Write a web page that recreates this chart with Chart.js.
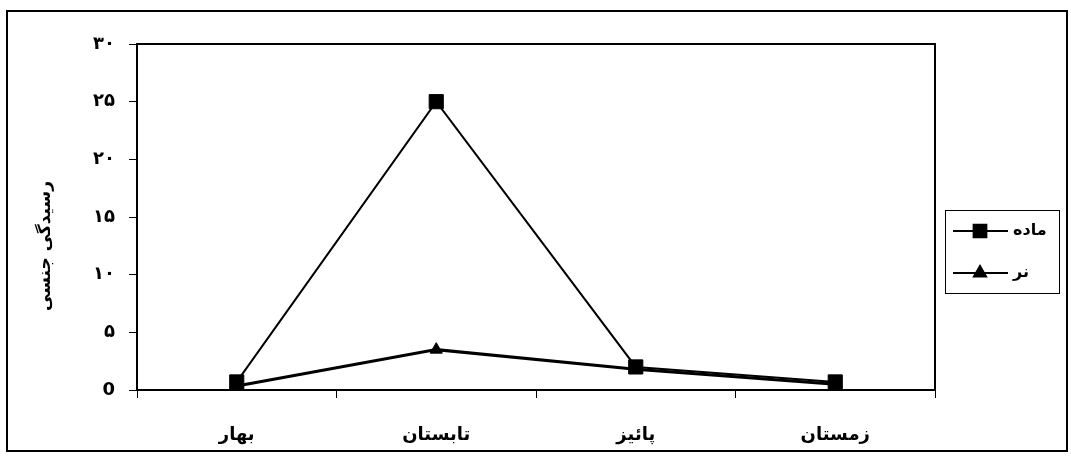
<!DOCTYPE html>
<html>
<head>
<meta charset="utf-8">
<script src="https://cdn.jsdelivr.net/npm/chart.js@4.4.1/dist/chart.umd.min.js"></script>
<style>
  body { margin: 0; background: #fff; }
  #frame { position: absolute; left: 6px; top: 10px; width: 1062px; height: 442px; border: 2px solid #000; box-sizing: border-box; }
  canvas { position: absolute; left: 0; top: 0; }
</style>
</head>
<body>
<div id="frame"></div>
<canvas id="chart" width="1071" height="463"></canvas>
<script>
// داده‌ها
const seasons = ['بهار', 'تابستان', 'پائیز', 'زمستان'];
const femaleValues = [0.7, 25, 2, 0.7];
const maleValues = [0.35, 3.5, 1.8, 0.5];
const yTickLabels = ['0', '۵', '۱۰', '۱۵', '۲۰', '۲۵', '۳۰'];
const seriesNames = ['ماده', 'نر'];
const yTitle = 'رسیدگی جنسی';

const faFont = '"DejaVu Sans", "Noto Sans", sans-serif';

// plot box (top and right edges)
const plotBox = {
  id: 'plotBox',
  beforeDatasetsDraw(chart) {
    const { ctx, chartArea: a } = chart;
    ctx.save();
    ctx.strokeStyle = '#000';
    ctx.lineWidth = 2;
    ctx.strokeRect(a.left, a.top, a.right - a.left, a.bottom - a.top);
    ctx.restore();
  }
};

// y title + legend
const extras = {
  id: 'extras',
  afterDraw(chart) {
    const { ctx, chartArea: a } = chart;
    ctx.save();
    ctx.fillStyle = '#000';
    ctx.font = 'bold 17px ' + faFont;
    ctx.textAlign = 'center';
    ctx.textBaseline = 'middle';
    ctx.translate(46, 246);
    ctx.rotate(-Math.PI / 2);
    ctx.fillText(yTitle, 0, 0);
    ctx.restore();

    // legend
    const lx = a.right + 10, ly = 210, lw = 114, lh = 83;
    ctx.save();
    ctx.strokeStyle = '#000';
    ctx.lineWidth = 1;
    ctx.strokeRect(lx + 0.5, ly + 0.5, lw, lh);
    chart.data.datasets.forEach((ds, i) => {
      const y = ly + 21 + i * 42;
      ctx.strokeStyle = '#000';
      ctx.lineWidth = 2;
      ctx.beginPath();
      ctx.moveTo(lx + 8, y);
      ctx.lineTo(lx + 63, y);
      ctx.stroke();
      Chart.helpers.drawPoint(ctx, {
        pointStyle: ds.pointStyle,
        radius: ds.pointStyle === 'rect' ? 9 : 7,
        borderWidth: 1
      }, lx + 35, y);
      ctx.fillStyle = '#000';
      ctx.font = 'bold 16px ' + faFont;
      ctx.textAlign = 'left';
      ctx.textBaseline = 'middle';
      ctx.fillText(ds.label, lx + 68, y);
    });
    ctx.restore();
  }
};

new Chart(document.getElementById('chart'), {
  type: 'line',
  data: {
    labels: seasons,
    datasets: [
      {
        label: seriesNames[0],
        data: femaleValues,
        borderColor: '#000',
        backgroundColor: '#000',
        borderWidth: 2,
        pointStyle: 'rect',
        pointRadius: 10,
        pointBorderWidth: 1,
        tension: 0
      },
      {
        label: seriesNames[1],
        data: maleValues,
        borderColor: '#000',
        backgroundColor: '#000',
        borderWidth: 3,
        pointStyle: 'triangle',
        pointRadius: 7,
        pointBorderWidth: 1,
        tension: 0
      }
    ]
  },
  options: {
    responsive: false,
    animation: false,
    devicePixelRatio: 1,
    layout: { padding: { top: 44, right: 136, left: 0, bottom: 0 } },
    plugins: {
      legend: { display: false },
      tooltip: { enabled: false }
    },
    scales: {
      x: {
        type: 'category',
        offset: true,
        grid: { offset: true, drawOnChartArea: false, tickLength: 8, color: '#000', lineWidth: 1 },
        border: { color: '#000', width: 2 },
        ticks: {
          color: '#000',
          padding: 27,
          font: { family: faFont, size: 18, weight: 'bold' }
        },
        afterFit(scale) { scale.height = 73; }
      },
      y: {
        min: 0,
        max: 30,
        grid: { drawOnChartArea: false, tickLength: 8, color: '#000', lineWidth: 1 },
        border: { color: '#000', width: 2 },
        ticks: {
          stepSize: 5,
          color: '#000',
          padding: 14,
          font: { family: faFont, size: 18, weight: 'bold' },
          callback: (v) => yTickLabels[v / 5]
        },
        afterFit(scale) { scale.width = 137; }
      }
    }
  },
  plugins: [plotBox, extras]
});
</script>
</body>
</html>
